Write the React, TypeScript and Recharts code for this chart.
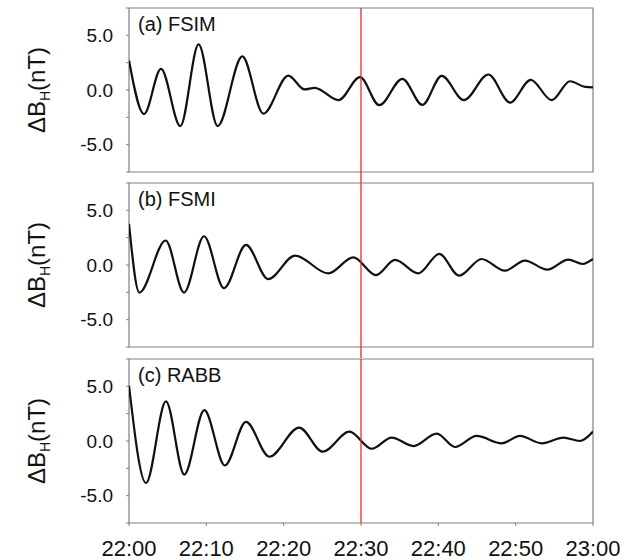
// ΔB_H в трёх пунктах — три панели с общей осью времени
import React from 'react';
import {
  LineChart,
  Line,
  XAxis,
  YAxis,
  ReferenceLine,
  ReferenceArea,
} from 'recharts';

const fsimTime = [0, 1.94, 4.14, 6.64, 9.0, 11.46, 14.65, 17.37, 20.6, 22.7, 24.0, 27.1, 29.87, 32.37, 35.35, 37.93, 40.44, 43.3, 46.47, 49.27, 51.95, 54.66, 57.03, 59.0, 60];
const fsimValue = [2.7, -2.2, 1.94, -3.3, 4.17, -3.3, 3.08, -2.17, 1.32, 0.05, 0.2, -0.93, 1.17, -1.39, 1.02, -1.36, 1.3, -0.93, 1.42, -1.15, 0.93, -0.93, 0.8, 0.28, 0.24];

const fsmiTime = [0, 1.34, 4.74, 7.11, 9.7, 12.28, 15.13, 18.0, 21.47, 25.77, 29.0, 31.94, 34.4, 37.4, 40.13, 42.7, 45.6, 48.6, 51.2, 54.1, 56.8, 58.67, 60];
const fsmiValue = [3.77, -2.52, 2.24, -2.52, 2.63, -2.12, 1.84, -1.29, 0.86, -0.77, 0.7, -0.92, 0.46, -0.77, 1.01, -0.98, 0.55, -0.52, 0.4, -0.43, 0.49, 0.09, 0.55];

const rabbTime = [0, 2.2, 4.78, 7.15, 9.74, 12.4, 15.13, 18.14, 22.0, 25.05, 28.5, 31.4, 33.97, 36.77, 39.8, 42.16, 44.96, 48.2, 50.56, 53.37, 56.17, 58.3, 60];
const rabbValue = [5.06, -3.84, 3.62, -3.07, 2.83, -2.24, 1.75, -1.44, 1.23, -0.98, 0.86, -0.71, 0.31, -0.46, 0.67, -0.55, 0.46, -0.21, 0.46, -0.21, 0.31, 0.0, 0.86];

const xTicks = [0, 10, 20, 30, 40, 50, 60];
const xTickLabels = ['22:00', '22:10', '22:20', '22:30', '22:40', '22:50', '23:00'];
const yTicks = [-7.5, -5, -2.5, 0, 2.5, 5, 7.5];
const yLabelled = [-5, 0, 5];
const eventMinute = 30; // 22:30

const FONT = '"Liberation Sans", Arial, sans-serif';
const BOX = '#808080';

function zip(t: number[], v: number[]) {
  return t.map(function (x, i) {
    return { t: x, v: v[i] };
  });
}

// подпись оси Y: ΔB с индексом H
function AxisTitle({ viewBox }: any) {
  if (!viewBox) return null;
  const cx = viewBox.x + 45;
  const cy = viewBox.y + viewBox.height / 2;
  return (
    <text
      transform={`translate(${cx}, ${cy}) rotate(-90)`}
      textAnchor="middle"
      fontSize={24}
      fill="#111"
      fontFamily={FONT}
    >
      <tspan>ΔB</tspan>
      <tspan fontSize={14} dy={5}>H</tspan>
      <tspan dy={-5}>(nT)</tspan>
    </text>
  );
}

interface PanelProps {
  title: string;
  times: number[];
  values: number[];
  top: number;
  height: number;
  marginTop: number;
  axisHeight: number;
  showTimes: boolean;
  lineBelow: number;
}

function Panel(p: PanelProps) {
  const data = zip(p.times, p.values);
  return (
    <div style={{ position: 'absolute', left: 0, top: p.top }}>
      <LineChart
        width={626}
        height={p.height}
        data={data}
        margin={{ top: p.marginTop, right: 33, bottom: 0, left: 0 }}
      >
        <XAxis
          dataKey="t"
          type="number"
          domain={[0, 60]}
          ticks={xTicks}
          allowDataOverflow
          height={p.axisHeight}
          axisLine={false}
          tickLine={{ stroke: BOX }}
          tickSize={3}
          tickMargin={14}
          tick={p.showTimes ? { fill: '#111', fontSize: 22, fontFamily: FONT } : false}
          tickFormatter={function (v: number) {
            return xTickLabels[xTicks.indexOf(v)] || '';
          }}
        />
        <YAxis
          type="number"
          domain={[-7.5, 7.5]}
          ticks={yTicks}
          allowDataOverflow
          width={129}
          axisLine={false}
          tickLine={{ stroke: BOX }}
          tickSize={3}
          tickMargin={13}
          tick={{ fill: '#111', fontSize: 19, fontFamily: FONT }}
          tickFormatter={function (v: number) {
            return yLabelled.indexOf(v) >= 0 ? v.toFixed(1) : '';
          }}
          label={AxisTitle}
        />
        <ReferenceArea
          x1={0}
          x2={60}
          y1={-7.5}
          y2={7.5}
          fill="none"
          stroke={BOX}
          strokeWidth={1.2}
          label={{
            value: p.title,
            position: 'insideTopLeft',
            offset: 9,
            fontSize: 20,
            fill: '#111',
            fontFamily: FONT,
          }}
        />
        <Line
          type="monotone"
          dataKey="v"
          stroke="#111"
          strokeWidth={2.2}
          dot={false}
          isAnimationActive={false}
        />
        <ReferenceLine
          segment={[
            { x: eventMinute, y: 7.5 },
            { x: eventMinute, y: -7.5 - p.lineBelow },
          ]}
          ifOverflow="visible"
          stroke="#e8282b"
          strokeWidth={1.3}
        />
      </LineChart>
    </div>
  );
}

export default function App() {
  return (
    <div style={{ position: 'absolute', left: 0, top: 0, width: 626, height: 560, background: '#fff', fontFamily: FONT }}>
      <Panel title="(a) FSIM" times={fsimTime} values={fsimValue} top={0} height={183} marginTop={8} axisHeight={11} showTimes={false} lineBelow={2} />
      <Panel title="(b) FSMI" times={fsmiTime} values={fsmiValue} top={182} height={176} marginTop={1} axisHeight={11} showTimes={false} lineBelow={2} />
      <Panel title="(c) RABB" times={rabbTime} values={rabbValue} top={358} height={202} marginTop={1} axisHeight={37} showTimes={true} lineBelow={0} />
    </div>
  );
}
